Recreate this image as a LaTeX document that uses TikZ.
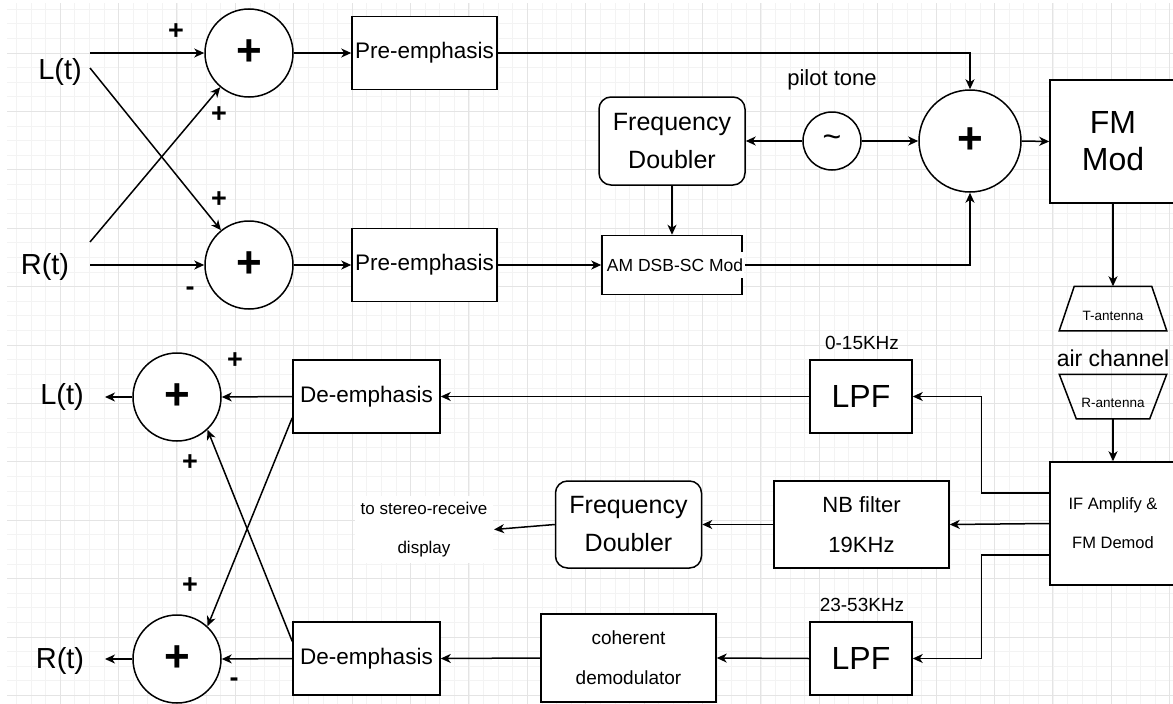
\documentclass[tikz,border=0pt]{standalone}
\usepackage{fontspec}
\setmainfont{Liberation Sans}
\usetikzlibrary{arrows.meta,calc}
\definecolor{gmin}{HTML}{F3F3F3}
\definecolor{gmaj}{HTML}{E4E4E4}
\begin{document}
\begin{tikzpicture}[x=1pt,y=-1pt,
  line width=1.5pt,
  arr/.style={-{Stealth[length=10pt,width=9pt,inset=3pt]}},
  blk/.style={draw, inner sep=0pt, fill=white, align=center},
  rblk/.style={blk, rounded corners=12pt},
  sumc/.style={draw, circle, inner sep=0pt, fill=white, minimum size=88pt, font=\fontsize{44}{44}\selectfont\bfseries},
  big/.style={font=\fontsize{29}{34}\selectfont},
  sgn/.style={font=\fontsize{27}{27}\selectfont\bfseries, inner sep=1pt},
  lbl/.style={inner sep=1pt, align=center},
  gminor/.style={draw=gmin, line width=0.8pt},
  gmajor/.style={draw=gmaj, line width=0.9pt}
]
\useasboundingbox (0,0) rectangle (1173,704);
\fill[white] (0,0) rectangle (1173,704);
% grid
\begin{scope}
\clip (7,3) rectangle (1173,704);
\foreach \i in {0,...,80} {\draw[gminor] ({1.7+14.6*\i},3) -- ({1.7+14.6*\i},704);}
\foreach \j in {0,...,49} {\draw[gminor] (7,{-5.4+14.6*\j}) -- (1173,{-5.4+14.6*\j});}
\foreach \i in {0,...,20} {\draw[gmajor] ({1.7+58.4*\i},3) -- ({1.7+58.4*\i},704);}
\foreach \j in {0,...,12} {\draw[gmajor] (7,{-5.4+58.4*\j}) -- (1173,{-5.4+58.4*\j});}
\end{scope}

% ---------- transmitter ----------
\node[big, inner sep=0pt] (Lin) at (60,72) {L(t)};
\node[big, inner sep=0pt] (Rin) at (45,267) {R(t)};
\coordinate (La) at (90,53);
\coordinate (Lb) at (90,68);
\coordinate (Ra) at (90,242);
\coordinate (Rb) at (90,265);

\node[sumc] (s1) at (249,53) {+};
\node[sumc] (s2) at (249,265) {+};

\node[sgn] (p1) at (176,32) {+};
\node[sgn] (p2) at (219,115) {+};
\node[sgn] (p3) at (219,200) {+};
\node[sgn] (p4) at (190,291) {-};

\node[blk, minimum width=145pt, minimum height=73pt, font=\fontsize{22.5}{26}\selectfont] (pe1) at (424.5,53) {Pre-emphasis};
\node[blk, minimum width=145pt, minimum height=73pt, font=\fontsize{22.5}{26}\selectfont] (pe2) at (424.5,265) {Pre-emphasis};

\node[rblk, minimum width=146pt, minimum height=88pt, font=\fontsize{25}{38}\selectfont] (fd1) at (672,141) {Frequency\\Doubler};
\node[blk, minimum width=140pt, minimum height=59pt] (am) at (672,265) {};
\node[fill=white, inner sep=1pt, minimum height=26pt, font=\fontsize{17.5}{20}\selectfont] (amt) at (675,265) {AM DSB-SC Mod};

\node[draw, circle, fill=white, inner sep=0pt, minimum size=58pt, font=\fontsize{32}{32}\selectfont] (pil) at (832,141) {\char"007E};
\node[lbl, font=\fontsize{22}{26}\selectfont] (pilt) at (832,80) {pilot tone};

\node[sumc, minimum size=102pt] (s3) at (970,141) {+};
\node[blk, minimum width=126pt, minimum height=123pt, font=\fontsize{32}{37}\selectfont] (fm) at (1113,141.5) {FM\\Mod};

% antennas
\node[inner sep=0pt, minimum width=106pt, minimum height=43pt] (tant) at (1113,308.5) {};
\draw (tant.south west) -- ($(tant.north west)+(15,0)$) -- ($(tant.north east)+(-15,0)$) -- (tant.south east) -- cycle;
\node[lbl, font=\fontsize{13.5}{16}\selectfont] (tantl) at (1113,316) {T-antenna};
\node[lbl, font=\fontsize{23}{27}\selectfont] (air) at (1113,358) {air channel};
\node[inner sep=0pt, minimum width=106pt, minimum height=43pt] (rant) at (1113,396.5) {};
\draw (rant.north west) -- (rant.north east) -- ($(rant.south east)+(-17,0)$) -- ($(rant.south west)+(17,0)$) -- cycle;
\node[lbl, font=\fontsize{13.5}{16}\selectfont] (rantl) at (1113,403) {R-antenna};

% ---------- receiver ----------
\node[blk, minimum width=126pt, minimum height=123pt, font=\fontsize{16.5}{39}\selectfont] (if) at (1113,523.5) {IF Amplify \&\\FM Demod};

\node[blk, minimum width=102pt, minimum height=73pt, font=\fontsize{32}{36}\selectfont] (lpf1) at (861,396.5) {LPF};
\node[lbl, font=\fontsize{19}{22}\selectfont] (f1) at (862,343) {0-15KHz};
\node[blk, minimum width=175pt, minimum height=87pt, font=\fontsize{22}{40}\selectfont] (nb) at (861.5,524.5) {NB filter\\19KHz};
\node[blk, minimum width=102pt, minimum height=73pt, font=\fontsize{32}{36}\selectfont] (lpf2) at (861,658.5) {LPF};
\node[lbl, font=\fontsize{19}{22}\selectfont] (f2) at (862,605) {23-53KHz};

\node[rblk, minimum width=146pt, minimum height=87pt, font=\fontsize{25}{38}\selectfont] (fd2) at (628.5,524.5) {Frequency\\Doubler};
\node[lbl, fill=white, inner sep=6pt, font=\fontsize{17}{39}\selectfont] (disp) at (424,529.5) {to stereo-receive\\display};
\node[blk, minimum width=175pt, minimum height=88pt, font=\fontsize{19}{40}\selectfont] (coh) at (628.5,658) {coherent\\demodulator};

\node[blk, minimum width=147pt, minimum height=73pt, font=\fontsize{22.5}{26}\selectfont] (de1) at (366.5,396.5) {De-emphasis};
\node[blk, minimum width=147pt, minimum height=73pt, font=\fontsize{22.5}{26}\selectfont] (de2) at (366.5,658.5) {De-emphasis};

\node[sumc] (s4) at (177,397) {+};
\node[sumc] (s5) at (177,659) {+};
\node[big, inner sep=0pt] (Lout) at (62,397) {L(t)};
\node[big, inner sep=0pt] (Rout) at (60,661) {R(t)};
\coordinate (Lo) at (105,397);
\coordinate (Ro) at (105,659);

\node[sgn] (q1) at (235,361) {+};
\node[sgn] (q2) at (190,463) {+};
\node[sgn] (q3) at (190,586) {+};
\node[sgn] (q4) at (234,682) {-};

% ---------- connectors ----------
\draw[arr] (La) -- (s1.west);
\draw[arr] (Lb) -- (s2);
\draw[arr] (Ra) -- (s1);
\draw[arr] (Rb) -- (s2.west);
\draw[arr] (s1.east) -- (pe1.west);
\draw[arr] (s2.east) -- (pe2.west);
\draw[arr] (pe1.east) -| (s3.north);
\draw[arr] (pe2.east) -- (am.west);
\draw[arr] (amt.east) -| (s3.south);
\draw[arr] (fd1.south) -- (am.north);
\draw[arr] (pil.west) -- (fd1.east);
\draw[arr] (pil.east) -- (s3.west);
\draw[arr] (s3.east) -- (fm.west);
\draw[arr] (fm.south) -- (tant.north);
\draw[arr] (rant.south) -- (if.north);

\draw[arr] ($(if.west)+(0,-30.5)$) -- ++(-68,0) |- (lpf1.east);
\draw[arr] (if.west) -- (nb.east);
\draw[arr] ($(if.west)+(0,31.5)$) -- ++(-68,0) |- (lpf2.east);
\draw[arr] (lpf1.west) -- (de1.east);
\draw[arr] (nb.west) -- (fd2.east);
\draw[arr] (fd2.west) -- (disp.east);
\draw[arr] (lpf2.west) -- (coh.east);
\draw[arr] (coh.west) -- (de2.east);
\draw[arr] (de1.west) -- (s4.east);
\draw[arr] (de2.west) -- (s5.east);
\draw[arr] (s4.west) -- (Lo);
\draw[arr] (s5.west) -- (Ro);
\draw[arr] (de1.196) -- (s5.47);
\draw[arr] (de2.167) -- (s4.313);
\end{tikzpicture}
\end{document}
